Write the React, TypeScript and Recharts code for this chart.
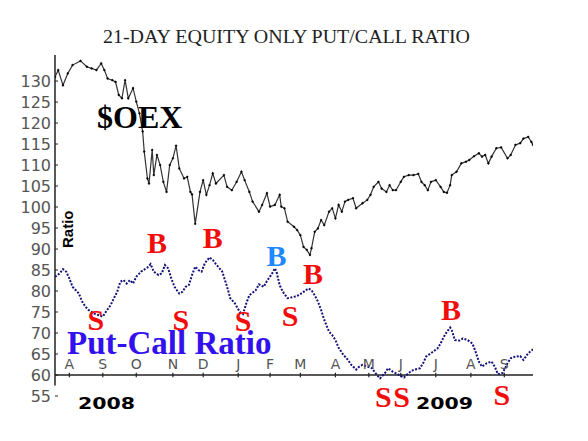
import { LineChart, Line, XAxis, YAxis, ReferenceLine, ReferenceDot } from "recharts";

// trading-day index from mid July 2008 (Aug 1 2008 = day 9)
const OEX_DAYS = [
  0, 2, 5, 8, 11, 16, 20, 23, 26, 29, 31, 33, 36, 38, 40, 42, 44, 46, 49, 51, 53, 55, 56, 58, 59, 61, 62, 64, 66, 68,
  70, 72, 74, 76, 78, 81, 83, 85, 86, 88, 91, 93, 95, 97, 99, 101, 106, 108, 111, 114, 117, 119, 122, 124, 128, 130,
  133, 135, 138, 141, 142, 144, 146, 150, 152, 154, 156, 158, 160, 161, 163, 165, 167, 169, 172, 174, 176, 178, 180,
  182, 184, 187, 189, 193, 196, 198, 200, 203, 205, 208, 210, 212, 214, 217, 219, 222, 225, 228, 230, 232, 234, 236,
  239, 242, 244, 246, 248, 249, 252, 255, 258, 260, 263, 266, 268, 270, 272, 274, 277, 280, 284, 286, 289, 292, 294,
  297, 299, 300,
];
const OEX_VALUES = [
  131, 132.6, 129, 131.8, 133.8, 134.8, 133.4, 133, 132.6, 134.2, 132.6, 130.6, 130.2, 129.8, 126.7, 125.9, 130.2,
  125.9, 128.3, 125.1, 122.3, 118, 113.2, 106.8, 105.6, 113.6, 107.6, 112.4, 110, 106, 103.6, 110, 111.6, 114.6, 109.2,
  106.8, 107.2, 103.6, 103, 96, 103.6, 106.4, 102.9, 105.2, 108, 105.6, 107.6, 104.8, 104, 106, 108.4, 106.4, 103.6,
  101.3, 98.9, 100.5, 103.3, 100.1, 100.5, 102.9, 100.1, 99.7, 96.5, 95.3, 94.5, 93.3, 90.5, 89.8, 88.6, 90.2, 94.1,
  94.9, 96.9, 95.7, 98.9, 99.7, 97.3, 100.5, 98.9, 101.3, 101.7, 102.1, 99.7, 100.9, 101.7, 102.9, 104.8, 106, 104.4,
  103.6, 105.2, 104, 104, 106, 107.2, 107.6, 107.6, 107.9, 106, 105.2, 104, 106, 106.4, 104.8, 103.6, 103.4, 105.2,
  107.6, 108.4, 110.4, 110.8, 111.2, 112.1, 112.8, 112, 112.4, 110.4, 112, 114, 114.2, 111.6, 112.4, 114.8, 115.2,
  116.3, 116.7, 115.5, 114.8,
];

const RATIO_DAYS = [
  0, 3, 5, 7, 9, 11, 15, 17, 19, 21, 24, 27, 30, 32, 35, 37, 39, 41, 43, 45, 47, 49, 51, 54, 58, 60, 62, 65, 67, 69,
  71, 73, 75, 78, 80, 82, 84, 86, 88, 90, 92, 94, 97, 99, 101, 105, 108, 110, 113, 116, 118, 120, 122, 126, 128, 131,
  133, 136, 138, 139, 141, 143, 146, 150, 153, 156, 159, 161, 163, 165, 167, 169, 172, 174, 176, 178, 181, 183, 186,
  189, 191, 193, 196, 199, 202, 204, 207, 209, 212, 215, 219, 222, 225, 229, 231, 233, 236, 240, 242, 244, 246, 248,
  249, 251, 254, 256, 259, 262, 264, 266, 268, 271, 274, 276, 278, 281, 284, 286, 289, 292, 294, 297, 300,
];
const RATIO_VALUES = [
  83.4, 84.2, 85.2, 84.6, 83, 81, 79.4, 77.5, 76.3, 75.5, 74.7, 74.3, 73.9, 75.1, 76.7, 78.3, 79.8, 82.2, 82.6, 81.8,
  82.6, 81.8, 83.4, 84.6, 85.6, 86.4, 84.6, 83.8, 84.2, 86.2, 85.4, 83, 81, 79.4, 79.8, 81, 81.4, 83.8, 85.8, 85, 84.6,
  86.6, 88, 87.4, 86.4, 84.6, 81, 78.3, 77, 75, 74.5, 77, 79, 80.2, 81.6, 81, 82.4, 84, 85.4, 84.6, 81.4, 79.8, 78.3,
  78.6, 79, 79.8, 80.6, 80.2, 79, 77.5, 75.5, 73.1, 70.3, 69.5, 68.3, 66.5, 64.8, 64, 62.4, 61.3, 62, 62.4, 62, 61.6,
  60, 59.2, 60.4, 61.6, 60.8, 60.2, 59.4, 60.5, 61.2, 61.6, 62.8, 64.4, 65.2, 66.3, 67.5, 69.1, 70.3, 71.3, 70.7, 68.3,
  68.2, 68.7, 68.3, 67.5, 65.5, 63.2, 62, 62.8, 63.2, 62, 60.2, 60.5, 62.8, 64, 64.4, 64.5, 63.6, 65.2, 66.1,
];

const MONTH_LABELS = ["A", "S", "O", "N", "D", "J", "F", "M", "A", "M", "J", "J", "A", "S"];
const MONTH_START_DAYS = [9, 30, 51, 74, 93, 115, 135, 154, 176, 197, 217, 239, 261, 282];
const Y_TICKS = [55, 60, 65, 70, 75, 80, 85, 90, 95, 100, 105, 110, 115, 120, 125, 130];

// buy / sell signals: "B" = buy, "S" = sell, "b" = buy (blue)
const SIGNAL_DAYS = [25.7, 64, 79, 99, 118, 139, 147.5, 162, 206, 217.5, 248.5, 280.5];
const SIGNAL_LEVELS = [73.1, 91.4, 73.1, 92.6, 72.9, 88.3, 74, 84, 54.8, 54.8, 75.5, 55.2];
const SIGNAL_KINDS = ["S", "B", "S", "B", "S", "b", "S", "B", "S", "S", "B", "S"];

const oexData = OEX_DAYS.map((day, i) => ({ day, value: OEX_VALUES[i] }));
const ratioData = RATIO_DAYS.map((day, i) => ({ day, value: RATIO_VALUES[i] }));

const SERIF = "'Liberation Serif', 'Times New Roman', serif";
const SANS = "'DejaVu Sans', sans-serif";

export default function App() {
  return (
    <div style={{ position: "absolute", left: 0, top: 0, width: 588, height: 441, background: "#fff" }}>
      <LineChart width={588} height={441} margin={{ top: 55, right: 55, bottom: 45, left: 10 }}>
        <XAxis type="number" dataKey="day" domain={[0, 300]} hide allowDataOverflow />
        <YAxis
          type="number"
          domain={[55, 136.2]}
          ticks={Y_TICKS}
          interval={0}
          allowDataOverflow
          width={45}
          axisLine={false}
          tickSize={-3}
          tickMargin={7}
          tickLine={{ stroke: "#222" }}
          tick={{ fontSize: 16, fontFamily: SANS, fill: "#555" }}
        />
        <ReferenceLine segment={[{ x: 0, y: 57.5 }, { x: 0, y: 136.2 }]} stroke="#222" strokeWidth={1.5} />
        <ReferenceLine y={60} stroke="#222" strokeWidth={1.5} />
        {MONTH_START_DAYS.map((d, i) => (
          <ReferenceLine
            key={`m${i}`}
            segment={[{ x: d, y: 59.45 }, { x: d, y: 60.55 }]}
            stroke="#222"
            strokeWidth={1.2}
            label={{ value: MONTH_LABELS[i], position: "top", offset: 4, fill: "#555", fontSize: 14, fontFamily: SANS }}
          />
        ))}
        <Line
          data={oexData}
          dataKey="value"
          type="linear"
          stroke="#333"
          strokeWidth={1.2}
          dot={{ r: 0.9, fill: "#000", stroke: "#000", strokeWidth: 0.5 }}
          isAnimationActive={false}
        />
        <Line
          data={ratioData}
          dataKey="value"
          type="linear"
          stroke="#12127a"
          strokeWidth={2}
          strokeDasharray="2 1.5"
          dot={false}
          isAnimationActive={false}
        />
        {SIGNAL_DAYS.map((d, i) => (
          <ReferenceDot
            key={`s${i}`}
            x={d}
            y={SIGNAL_LEVELS[i]}
            ifOverflow="visible"
            shape={(p: any) => (
              <text
                x={p.cx}
                y={p.cy + 10}
                textAnchor="middle"
                fontFamily={SERIF}
                fontWeight="bold"
                fontSize={30}
                fill={SIGNAL_KINDS[i] === "b" ? "#1e88ff" : "#f20d0d"}
              >
                {SIGNAL_KINDS[i].toUpperCase()}
              </text>
            )}
          />
        ))}
      </LineChart>
      <svg width={588} height={441} style={{ position: "absolute", left: 0, top: 0, pointerEvents: "none" }}>
        <text x={286.5} y={43} textAnchor="middle" fontFamily={SERIF} fontSize={19.5} fill="#222" textLength={367} lengthAdjust="spacingAndGlyphs">
          21-DAY EQUITY ONLY PUT/CALL RATIO
        </text>
        <text x={97} y={128} fontFamily={SERIF} fontWeight="bold" fontSize={32} fill="#000">
          $OEX
        </text>
        <text x={67} y={354} fontFamily={SERIF} fontWeight="bold" fontSize={33} fill="#3311ee">
          Put-Call Ratio
        </text>
        <text x={73} y={248} transform="rotate(-90 73 248)" fontFamily="'Liberation Sans', Arial, sans-serif" fontWeight="bold" fontSize={15} fill="#000">
          Ratio
        </text>
        <text x={78} y={409} fontFamily={SANS} fontWeight="bold" fontSize={16} fill="#000" textLength={57} lengthAdjust="spacingAndGlyphs">
          2008
        </text>
        <text x={416} y={409} fontFamily={SANS} fontWeight="bold" fontSize={16} fill="#000" textLength={57} lengthAdjust="spacingAndGlyphs">
          2009
        </text>
      </svg>
    </div>
  );
}
